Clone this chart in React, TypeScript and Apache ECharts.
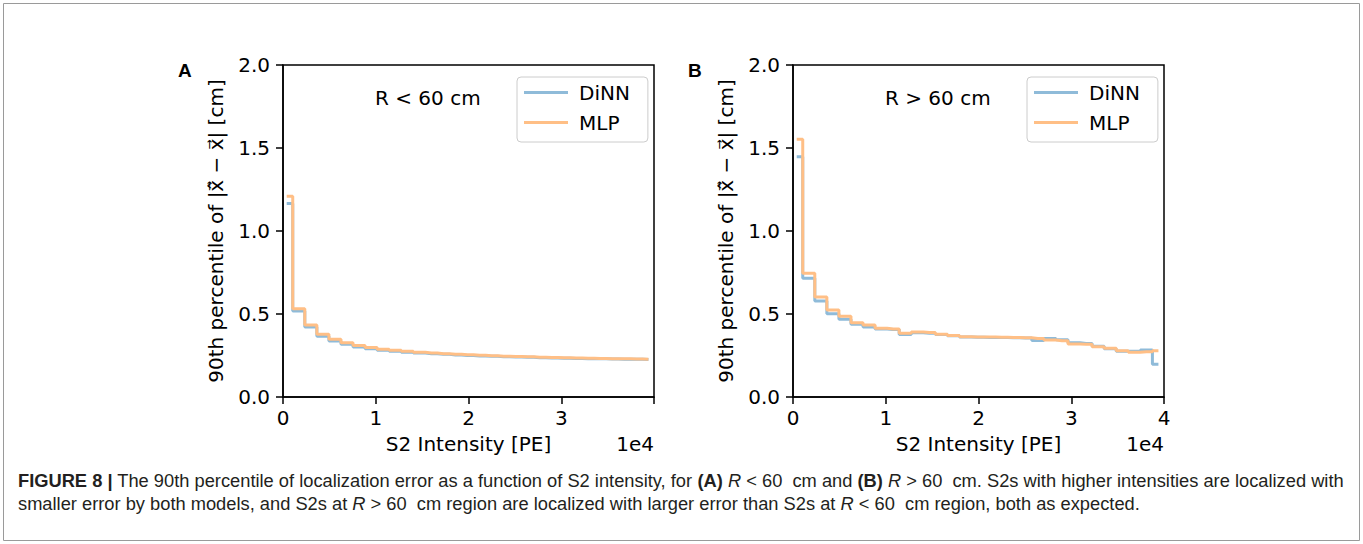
import React, { useEffect, useRef } from "react";
import * as echarts from "echarts";

// Bin centres of the S2 intensity histogram (units of 1e4 PE)
const binCenters = [
  0.04, 0.17, 0.30, 0.43, 0.56, 0.69, 0.82, 0.95, 1.08, 1.21, 1.34, 1.47, 1.60, 1.73, 1.86, 1.99,
  2.12, 2.25, 2.38, 2.51, 2.64, 2.77, 2.90, 3.03, 3.16, 3.29, 3.42, 3.55, 3.68, 3.81, 3.94,
];

// Panel A: R < 60 cm
const innerDiNN = [
  1.165, 0.518, 0.422, 0.366, 0.337, 0.318, 0.301, 0.290, 0.281, 0.275, 0.270, 0.265, 0.261, 0.257,
  0.253, 0.250, 0.247, 0.245, 0.243, 0.241, 0.239, 0.237, 0.235, 0.234, 0.232, 0.231, 0.230, 0.229,
  0.228, 0.227, 0.226,
];
const innerMLP = [
  1.21, 0.532, 0.434, 0.378, 0.348, 0.327, 0.310, 0.298, 0.288, 0.281, 0.275, 0.269, 0.265, 0.261,
  0.257, 0.254, 0.251, 0.249, 0.246, 0.244, 0.242, 0.240, 0.238, 0.237, 0.235, 0.233, 0.232, 0.231,
  0.230, 0.229, 0.227,
];

// Panel B: R > 60 cm
const outerDiNN = [
  1.448, 0.715, 0.578, 0.502, 0.468, 0.438, 0.422, 0.41, 0.407, 0.376, 0.387, 0.384, 0.376, 0.369,
  0.362, 0.360, 0.359, 0.358, 0.357, 0.355, 0.340, 0.352, 0.345, 0.327, 0.323, 0.305, 0.290, 0.276,
  0.275, 0.283, 0.197,
];
const outerMLP = [
  1.552, 0.745, 0.602, 0.524, 0.486, 0.448, 0.434, 0.414, 0.410, 0.384, 0.392, 0.388, 0.378, 0.371,
  0.363, 0.362, 0.361, 0.360, 0.359, 0.357, 0.353, 0.343, 0.339, 0.319, 0.318, 0.303, 0.293, 0.279,
  0.269, 0.273, 0.279,
];

const yTicks = [0, 0.5, 1.0, 1.5, 2.0];
const xTicks = [0, 1, 2, 3, 4];
const seriesNames = ["DiNN", "MLP"];
const panelLabels = ["A", "B"];
const regionLabels = ["R < 60 cm", "R > 60 cm"];
const xAxisTitle = "S2 Intensity [PE]";
const yAxisTitle = "90th percentile of |x\u20D7\u0302 \u2212 x\u20D7| [cm]";
const offsetText = "1e4";
const captionLine1 =
  "{b|FIGURE 8 |} The 90th percentile of localization error as a function of S2 intensity, for {b|(A)} {i|R} < 60  cm and {b|(B)} {i|R} > 60  cm. S2s with higher intensities are localized with";
const captionLine2 =
  "smaller error by both models, and S2s at {i|R} > 60  cm region are localized with larger error than S2s at {i|R} < 60  cm region, both as expected.";

const BLUE = "#8fbbd9";
const ORANGE = "#ffbf86";
const FONT = "DejaVu Sans";
const FS = 20;
const CAP_FONT = "'Liberation Sans', Arial, sans-serif";
const CAP_FS = 18.3;

function pairs(ys: number[]) {
  return binCenters.map((x, i) => [x, ys[i]]);
}

export default function App() {
  const ref = useRef<HTMLDivElement>(null);

  useEffect(() => {
    if (!ref.current) return;
    const chart = echarts.init(ref.current, undefined, { renderer: "svg" });

    const gridLefts = [283, 793];
    const gridTop = 65;
    const gridW = 371;
    const gridH = 332;

    const grids = gridLefts.map((l) => ({
      left: l,
      top: gridTop,
      width: gridW,
      height: gridH,
      show: true,
      borderColor: "#000",
      borderWidth: 1.5,
      backgroundColor: "transparent",
    }));

    const xAxes = gridLefts.map((_, gi) => ({
      type: "value",
      gridIndex: gi,
      min: xTicks[0],
      max: xTicks[xTicks.length - 1],
      interval: 1,
      axisLine: { show: true, onZero: false, lineStyle: { color: "#000", width: 1.5 } },
      axisTick: { show: true, inside: false, length: 7, lineStyle: { color: "#000", width: 1.5 } },
      axisLabel: {
        margin: 11,
        fontSize: FS,
        fontFamily: FONT,
        color: "#000",
        showMaxLabel: true,
        formatter: (v: number) => (gi === 0 && v === 4 ? "" : String(v)),
      },
      splitLine: { show: false },
    }));

    const yAxes = gridLefts.map((_, gi) => ({
      type: "value",
      gridIndex: gi,
      min: yTicks[0],
      max: yTicks[yTicks.length - 1],
      interval: 0.5,
      axisLine: { show: true, onZero: false, lineStyle: { color: "#000", width: 1.5 } },
      axisTick: { show: true, inside: false, length: 7, lineStyle: { color: "#000", width: 1.5 } },
      axisLabel: {
        margin: 13,
        fontSize: FS,
        fontFamily: FONT,
        color: "#000",
        formatter: (v: number) => v.toFixed(1),
      },
      splitLine: { show: false },
    }));

    const mk = (name: string, data: number[], color: string, gi: number, z: number) => ({
      type: "line",
      name,
      xAxisIndex: gi,
      yAxisIndex: gi,
      step: "middle",
      showSymbol: false,
      symbol: "none",
      data: pairs(data),
      lineStyle: { color, width: 3 },
      itemStyle: { color },
      z,
    });

    const legendCommon = {
      orient: "vertical",
      top: 77,
      data: seriesNames,
      icon: "rect",
      itemWidth: 44,
      itemHeight: 3,
      itemGap: 7,
      padding: [4, 18, 8, 7],
      backgroundColor: "#fff",
      borderColor: "#cccccc",
      borderWidth: 1,
      borderRadius: 4,
      textStyle: { fontSize: FS, fontFamily: FONT, color: "#000", lineHeight: 23, padding: [0, 0, 0, 6] },
      selectedMode: false,
    };

    const graphic: any[] = [
      {
        type: "rect",
        shape: { x: 3.5, y: 3.5, width: 1356, height: 537 },
        style: { fill: "none", stroke: "#9a9a9a", lineWidth: 1 },
        silent: true,
      },
    ];
    gridLefts.forEach((l, gi) => {
      graphic.push(
        {
          type: "text",
          x: l - 105,
          y: 70,
          style: {
            text: panelLabels[gi],
            font: "bold 19px 'Liberation Sans', Arial, sans-serif",
            fill: "#000",
            align: "left",
            verticalAlign: "middle",
          },
        },
        {
          type: "text",
          x: l + 92,
          y: 98,
          style: {
            text: regionLabels[gi],
            font: `${FS}px '${FONT}'`,
            fill: "#000",
            align: "left",
            verticalAlign: "middle",
          },
        },
        {
          type: "text",
          x: l + gridW / 2,
          y: 444,
          style: {
            text: xAxisTitle,
            font: `${FS}px '${FONT}'`,
            fill: "#000",
            align: "center",
            verticalAlign: "middle",
          },
        },
        {
          type: "text",
          x: l + gridW,
          y: 444,
          style: {
            text: offsetText,
            font: `${FS}px '${FONT}'`,
            fill: "#000",
            align: "right",
            verticalAlign: "middle",
          },
        },
        {
          type: "text",
          x: l - 67,
          y: gridTop + gridH / 2,
          rotation: Math.PI / 2,
          style: {
            text: yAxisTitle,
            font: `${FS}px '${FONT}'`,
            fill: "#000",
            align: "center",
            verticalAlign: "middle",
          },
        }
      );
    });

    const capRich = {
      b: { fontWeight: "bold", fontSize: CAP_FS, fontFamily: CAP_FONT, color: "#231f20" },
      i: { fontStyle: "italic", fontSize: CAP_FS, fontFamily: CAP_FONT, color: "#231f20" },
    };
    [captionLine1, captionLine2].forEach((t, i) => {
      graphic.push({
        type: "text",
        x: 18,
        y: 480 + i * 23,
        style: {
          text: t,
          fontSize: CAP_FS,
          fontFamily: CAP_FONT,
          fill: "#231f20",
          align: "left",
          verticalAlign: "middle",
          rich: capRich,
        },
      });
    });

    chart.setOption({
      animation: false,
      backgroundColor: "#fff",
      grid: grids,
      xAxis: xAxes,
      yAxis: yAxes,
      legend: [
        { ...legendCommon, left: 517 },
        { ...legendCommon, left: 1027 },
      ],
      series: [
        mk("DiNN", innerDiNN, BLUE, 0, 2),
        mk("MLP", innerMLP, ORANGE, 0, 3),
        mk("DiNN", outerDiNN, BLUE, 1, 2),
        mk("MLP", outerMLP, ORANGE, 1, 3),
      ],
      graphic,
    });

    return () => chart.dispose();
  }, []);

  return (
    <div style={{ position: "fixed", left: 0, top: 0, width: 1363, height: 544, background: "#fff" }}>
      <div ref={ref} style={{ width: 1363, height: 544 }} />
    </div>
  );
}
